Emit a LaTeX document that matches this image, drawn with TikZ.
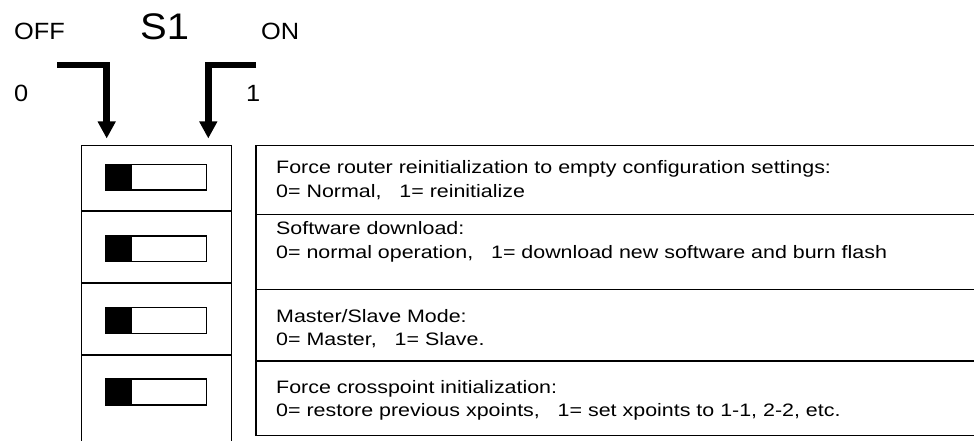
\documentclass[tikz,border=0pt]{standalone}
\usepackage{fontspec}
\setmainfont{Liberation Sans}
\newfontfamily\bodyfont[FakeStretch=1.19]{Liberation Sans}
\newfontfamily\labfont[FakeStretch=1.08]{Liberation Sans}
\usetikzlibrary{arrows.meta}
\begin{document}
\begin{tikzpicture}[x=1pt,y=-1pt,
  body/.style={anchor=base west,inner sep=0pt,font=\bodyfont\fontsize{18}{21}\selectfont},
  lab/.style={anchor=base west,inner sep=0pt,font=\labfont\fontsize{23.5}{26}\selectfont},
  bigl/.style={anchor=base west,inner sep=0pt,font=\labfont\fontsize{37}{40}\selectfont},
  frame/.style={line width=1.4pt},
  pointer/.style={line width=6.5pt,miter limit=10,-{Triangle[width=17pt,length=17pt]}},
  switchbox/.style={line width=1.3pt},
]
\useasboundingbox (0,0) rectangle (974,441);
% labels on top
\node[lab] (off) at (14,39.5) {OFF};
\node[bigl] (s1) at (140,40) {S1};
\node[lab] (on) at (261,39.5) {ON};
\node[lab] (zero) at (14,101.5) {0};
\node[lab] (one) at (246,101.5) {1};
% arrows
\coordinate (a0s) at (57,65);
\coordinate (a0c) at (106.7,65);
\coordinate (a0e) at (106.7,138.5);
\coordinate (a1s) at (256,65);
\coordinate (a1c) at (208.3,65);
\coordinate (a1e) at (208.3,138.5);
\draw[pointer] (a0s) -- (a0c) -- (a0e);
\draw[pointer] (a1s) -- (a1c) -- (a1e);
% left switch panel
\draw[frame] (81.7,441) -- (81.7,145.7) -- (231.5,145.7) -- (231.5,441);
\foreach \y in {211,283,355} \draw[frame] (81.7,\y) -- (231.5,\y);
% switches
\foreach \t/\b in {164.3/190,236/261.3,307.7/333.3,379/405}{
  \fill (105.7,\t) rectangle (132,\b);
  \draw[switchbox] (105.7,\t) rectangle (206.7,\b);
}
% right description panel
\draw[frame] (974,145.7) -- (256,145.7) -- (256,435.5) -- (974,435.5);
\foreach \y in {214.3,289.3,361} \draw[frame] (256,\y) -- (974,\y);
% texts
\node[body] (t1a) at (276,173) {Force router reinitialization to empty configuration settings:};
\node[body] (t1b) at (276,197.5) {0= Normal,\ \ \ 1= reinitialize};
\node[body] (t2a) at (276,234.5) {Software download:};
\node[body] (t2b) at (276,258) {0= normal operation,\ \ \ 1= download new software and burn flash};
\node[body] (t3a) at (276,322.3) {Master/Slave Mode:};
\node[body] (t3b) at (276,345.7) {0= Master,\ \ \ 1= Slave.};
\node[body] (t4a) at (276,393.3) {Force crosspoint initialization:};
\node[body] (t4b) at (276,416.7) {0= restore previous xpoints,\ \ \ 1= set xpoints to 1-1, 2-2, etc.};
\end{tikzpicture}
\end{document}
